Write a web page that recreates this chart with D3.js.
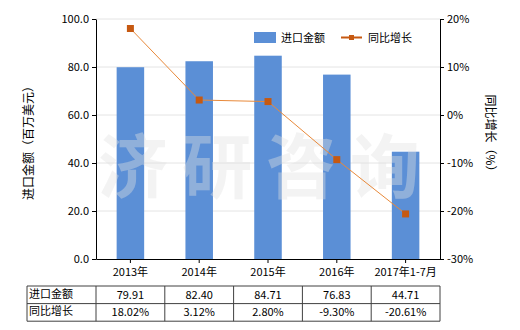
<!DOCTYPE html>
<html>
<head>
<meta charset="utf-8">
<script src="https://cdn.jsdelivr.net/npm/d3@7"></script>
<style>
  body { margin: 0; background: #fff; }
  svg { font-family: "Noto Sans CJK SC", "DejaVu Sans", sans-serif; }
</style>
</head>
<body>
<svg id="chart" width="520" height="330"></svg>
<script>
const categories = ["2013年", "2014年", "2015年", "2016年", "2017年1-7月"];
const importValues = [79.91, 82.40, 84.71, 76.83, 44.71];
const growthValues = [18.02, 3.12, 2.80, -9.30, -20.61];
const leftTicks = [0, 20, 40, 60, 80, 100];
const rightTicks = [-30, -20, -10, 0, 10, 20];

const width = 520;
const height = 330;
const margin = { left: 96, right: 80, top: 19, bottom: 71 };

const svg = d3.select("#chart");

const xScale = d3.scaleBand()
    .domain(categories)
    .range([margin.left, width - margin.right]);

const yLeft = d3.scaleLinear()
    .domain([0, 100])
    .range([height - margin.bottom, margin.top]);

const yRight = d3.scaleLinear()
    .domain([-30, 20])
    .range([height - margin.bottom, margin.top]);

// gridlines
svg.append("g")
    .selectAll("line")
    .data(leftTicks.slice(1))
    .enter()
    .append("line")
    .attr("x1", margin.left)
    .attr("x2", width - margin.right)
    .attr("y1", d => yLeft(d))
    .attr("y2", d => yLeft(d))
    .attr("stroke", "#e4e4e4")
    .attr("stroke-width", 1);

// bars
const barW = xScale.bandwidth() * 0.4;
svg.append("g")
    .selectAll("rect")
    .data(importValues)
    .enter()
    .append("rect")
    .attr("x", (d, i) => xScale(categories[i]) + xScale.bandwidth() / 2 - barW / 2)
    .attr("y", d => yLeft(d))
    .attr("width", barW)
    .attr("height", d => yLeft(0) - yLeft(d))
    .attr("fill", "#5b8fd6");

// watermark
svg.append("text")
    .attr("x", 98)
    .attr("y", 193)
    .attr("font-size", 70)
    .attr("font-weight", "bold")
    .attr("letter-spacing", 14)
    .attr("fill", "#e1e1e1")
    .attr("fill-opacity", 0.4)
    .text("济研咨询");

// line
const cx = i => xScale(categories[i]) + xScale.bandwidth() / 2;
const line = d3.line()
    .x((d, i) => cx(i))
    .y(d => yRight(d));

svg.append("path")
    .datum(growthValues)
    .attr("d", line)
    .attr("fill", "none")
    .attr("stroke", "#e8893a")
    .attr("stroke-width", 1);

svg.append("g")
    .selectAll("rect")
    .data(growthValues)
    .enter()
    .append("rect")
    .attr("x", (d, i) => cx(i) - 3.5)
    .attr("y", d => yRight(d) - 3.5)
    .attr("width", 7)
    .attr("height", 7)
    .attr("fill", "#c65911");

// axes
const leftAxis = d3.axisLeft(yLeft)
    .tickValues(leftTicks)
    .tickFormat(d3.format(".1f"))
    .tickSize(4)
    .tickSizeOuter(0);

const rightAxis = d3.axisRight(yRight)
    .tickValues(rightTicks)
    .tickFormat(d => d + "%")
    .tickSize(4)
    .tickSizeOuter(0);

const xAxis = d3.axisBottom(xScale)
    .tickSize(4)
    .tickSizeOuter(0);

function styleAxis(g) {
    g.selectAll("path, line").attr("stroke", "#000");
    g.selectAll("text").attr("font-size", 11).attr("fill", "#000")
        .attr("font-family", "\"Noto Sans CJK SC\", sans-serif");
}

svg.append("g")
    .attr("transform", `translate(${margin.left},0)`)
    .call(leftAxis)
    .call(styleAxis);

svg.append("g")
    .attr("transform", `translate(${width - margin.right},0)`)
    .call(rightAxis)
    .call(styleAxis);

svg.append("g")
    .attr("transform", `translate(0,${height - margin.bottom})`)
    .call(xAxis)
    .call(styleAxis)
    .call(g => g.selectAll("text").attr("dy", "0.95em"));

// axis titles
svg.append("text")
    .attr("transform", "translate(33,140) rotate(-90)")
    .attr("text-anchor", "middle")
    .attr("font-size", 12)
    .text("进口金额（百万美元）");

svg.append("text")
    .attr("transform", "translate(486,136) rotate(90)")
    .attr("text-anchor", "middle")
    .attr("font-size", 12)
    .text("同比增长（%）");

// legend
const legend = svg.append("g");
legend.append("rect")
    .attr("x", 254).attr("y", 32)
    .attr("width", 22).attr("height", 11)
    .attr("fill", "#5b8fd6");
legend.append("text")
    .attr("x", 281).attr("y", 41.5)
    .attr("font-size", 11)
    .text("进口金额");
legend.append("line")
    .attr("x1", 341).attr("x2", 362)
    .attr("y1", 37.5).attr("y2", 37.5)
    .attr("stroke", "#c65911").attr("stroke-width", 2);
legend.append("rect")
    .attr("x", 349).attr("y", 35)
    .attr("width", 5).attr("height", 5)
    .attr("fill", "#c65911");
legend.append("text")
    .attr("x", 368).attr("y", 41.5)
    .attr("font-size", 11)
    .text("同比增长");

// data table
const tableTop = 286;
const rowH = 17.6;
const tableLeft = 27;
const rows = [
    { label: "进口金额", values: importValues.map(d => d.toFixed(2)) },
    { label: "同比增长", values: growthValues.map(d => d.toFixed(2) + "%") }
];

const table = svg.append("g");
const tableRight = width - margin.right;

[0, 1, 2].forEach(r => {
    table.append("line")
        .attr("x1", tableLeft).attr("x2", tableRight)
        .attr("y1", tableTop + r * rowH).attr("y2", tableTop + r * rowH)
        .attr("stroke", "#404040");
});

const colEdges = [tableLeft, margin.left].concat(categories.map(c => xScale(c) + xScale.bandwidth()));
colEdges.forEach(x => {
    table.append("line")
        .attr("x1", x).attr("x2", x)
        .attr("y1", tableTop).attr("y2", tableTop + 2 * rowH)
        .attr("stroke", "#404040");
});

rows.forEach((row, r) => {
    const y = tableTop + r * rowH + rowH / 2 + 4;
    table.append("text")
        .attr("x", tableLeft + 2)
        .attr("y", y - 1)
        .attr("font-size", 11)
        .text(row.label);
    row.values.forEach((v, i) => {
        table.append("text")
            .attr("x", cx(i))
            .attr("y", y)
            .attr("text-anchor", "middle")
            .attr("font-size", 11)
            .text(v);
    });
});
</script>
</body>
</html>
